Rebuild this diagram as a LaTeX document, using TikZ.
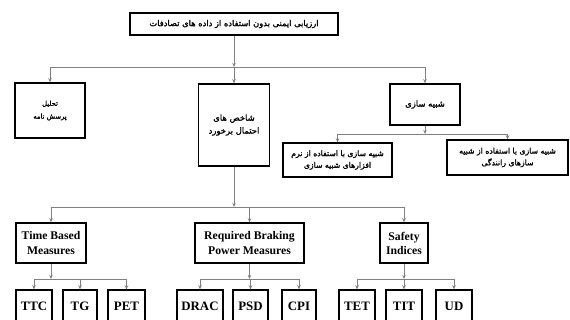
\documentclass[tikz,border=0pt]{standalone}
\usepackage{fontspec}
\usetikzlibrary{arrows.meta}
\setmainfont{Liberation Serif}
\newfontfamily\farsi[Script=Arabic, FakeBold=1.6]{DejaVu Sans}
\TeXXeTstate=1
\newcommand{\fa}[1]{{\farsi\beginR #1\endR}}

\tikzset{
  box/.style={draw=black, line width=1.1pt, fill=white, inner sep=1pt, align=center, font=\bfseries},
  leaf/.style={box, minimum height=0.96cm, font=\bfseries\fontsize{11}{12}\selectfont},
  conn/.style={draw=gray, line width=0.7pt, -{Stealth[length=3.5pt,width=3pt]}}
}

\begin{document}
\begin{tikzpicture}[x=0.03cm,y=-0.03cm]
\useasboundingbox (0,0) rectangle (570,320);

% first level
\node [box, minimum width=6.24cm, minimum height=0.66cm, font=\fontsize{7.1}{8}\selectfont] (top) at (234,24)
  {\fa{ارزیابی ایمنی بدون استفاده از داده های تصادفات}};
\coordinate (b1) at (234,67);

\node [box, minimum width=2.1cm, minimum height=1.65cm, font=\fontsize{5.8}{11}\selectfont] (quest) at (50,110.5)
  {\fa{تحلیل}\\\fa{پرسش نامه}};
\node [box, minimum width=2.13cm, minimum height=2.46cm, font=\fontsize{7.2}{11}\selectfont] (indic) at (234,125)
  {\fa{شاخص های}\\\fa{احتمال برخورد}};
\node [box, minimum width=2.1cm, minimum height=1.23cm, font=\fontsize{7.2}{9}\selectfont] (sim) at (425,104.5)
  {\fa{شبیه سازی}};

\draw [conn] (top) -- (b1);
\draw [conn] (b1) -| (quest);
\draw [conn] (b1) -- (indic);
\draw [conn] (b1) -| (sim);

% simulation
\coordinate (b2) at (425,134);
\node [box, minimum width=3.27cm, minimum height=1.02cm, font=\fontsize{6.6}{10}\selectfont] (simsw) at (337.5,160)
  {\fa{شبیه سازی با استفاده از نرم}\\\fa{افزارهای شبیه سازی}};
\node [box, minimum width=3.63cm, minimum height=1.05cm, font=\fontsize{6.6}{10}\selectfont] (simdrv) at (507.5,157.5)
  {\fa{شبیه سازی با استفاده از شبیه}\\\fa{سازهای رانندگی}};
\draw [conn] (sim) -- (b2);
\draw [conn] (b2) -| (simsw);
\draw [conn] (b2) -| (simdrv);

% measures
\coordinate (b3) at (234,207);
\node [box, minimum width=2.1cm, minimum height=1.2cm] (tbm) at (51,243) {Time Based\\Measures};
\node [box, minimum width=3.27cm, minimum height=1.2cm] (rbp) at (249.5,243) {Required Braking\\Power Measures};
\node [box, minimum width=1.44cm, minimum height=1.2cm] (saf) at (404,243) {Safety\\Indices};
\draw [conn] (indic) -- (b3);
\draw [conn] (b3) -| (tbm);
\draw [conn] (b3) -| (rbp);
\draw [conn] (b3) -| (saf);

% leaves
\node [leaf, minimum width=1.08cm] (ttc) at (34,306) {TTC};
\node [leaf, minimum width=1.02cm] (tg) at (80,306) {TG};
\node [leaf, minimum width=1.11cm] (pet) at (126.5,306) {PET};
\node [leaf, minimum width=1.38cm] (drac) at (200,306) {DRAC};
\node [leaf, minimum width=1.05cm] (psd) at (250.5,306) {PSD};
\node [leaf, minimum width=1.02cm] (cpi) at (299,306) {CPI};
\node [leaf, minimum width=1.08cm] (tet) at (357,306) {TET};
\node [leaf, minimum width=1.08cm] (tit) at (404,306) {TIT};
\node [leaf, minimum width=1.08cm] (ud) at (454,306) {UD};

\coordinate (b4) at (51,279);
\coordinate (b5) at (249.5,279);
\coordinate (b6) at (404,279);
\draw [conn] (tbm) -- (b4);
\draw [conn] (b4) -| (ttc);
\draw [conn] (b4) -| (tg);
\draw [conn] (b4) -| (pet);
\draw [conn] (rbp) -- (b5);
\draw [conn] (b5) -| (drac);
\draw [conn] (b5) -| (psd);
\draw [conn] (b5) -| (cpi);
\draw [conn] (saf) -- (b6);
\draw [conn] (b6) -| (tet);
\draw [conn] (b6) -| (tit);
\draw [conn] (b6) -| (ud);
\end{tikzpicture}
\end{document}
